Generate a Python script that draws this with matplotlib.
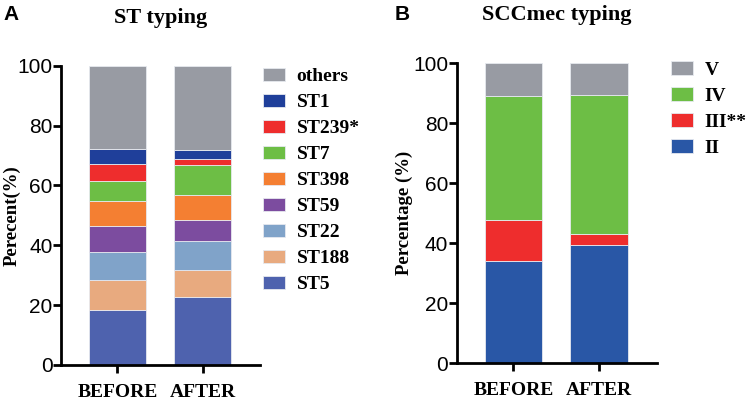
import matplotlib
matplotlib.use("Agg")
import matplotlib.pyplot as plt
from matplotlib.patches import Patch

groups = ['BEFORE', 'AFTER']

# panel A: ST typing, bottom to top
st_names = ['ST5', 'ST188', 'ST22', 'ST59', 'ST398', 'ST7', 'ST239*', 'ST1', 'others']
st_before = [18.4, 9.9, 9.5, 8.6, 8.4, 6.7, 5.7, 4.9, 27.9]
st_after = [22.7, 9.0, 9.7, 6.9, 8.5, 10.0, 1.9, 3.0, 28.3]
st_colors = ['#4e62ae', '#e8aa7f', '#80a3c9', '#7c4c9f', '#f47f32',
             '#6dbe45', '#ee2d2d', '#1f3f9a', '#989ba3']

# panel B: SCCmec typing, bottom to top
scc_names = ['II', 'III**', 'IV', 'V']
scc_before = [34.1, 13.8, 41.2, 10.9]
scc_after = [39.4, 3.8, 46.2, 10.6]
scc_colors = ['#2957a6', '#ee2d2d', '#6dbe45', '#989ba3']

serif = 'Liberation Serif'
sans = 'Liberation Sans'
W, H = 749, 401

fig = plt.figure(figsize=(W / 100, H / 100), dpi=100)


def stacked(ax, names, before, after, colors, ylabel, labelpad):
    bottoms = [0, 0]
    handles = []
    for name, b, a, c in zip(names, before, after, colors):
        ax.bar([0, 1], [b, a], bottom=bottoms, width=0.67, color=c,
               edgecolor='#e6e9ef', linewidth=0.6)
        bottoms = [bottoms[0] + b, bottoms[1] + a]
        handles.append(Patch(facecolor=c, edgecolor='#e6e9ef', linewidth=0.6, label=name))
    ax.set_xlim(-0.66, 1.67)
    ax.set_ylim(0, 100)
    ax.set_yticks(range(0, 101, 20))
    ax.set_xticks([0, 1])
    ax.set_xticklabels(groups, fontfamily=serif, fontweight='bold', fontsize=14)
    for lab in ax.get_yticklabels():
        lab.set_fontfamily(sans)
        lab.set_fontsize(15)
    ax.spines['top'].set_visible(False)
    ax.spines['right'].set_visible(False)
    for s in ('left', 'bottom'):
        ax.spines[s].set_linewidth(2.0)
    ax.tick_params(axis='both', width=2.0, length=5.5, pad=0.5)
    ax.tick_params(axis='x', length=5.5, pad=8)
    ax.set_ylabel(ylabel, fontfamily=serif, fontweight='bold', fontsize=13.5, labelpad=labelpad)
    return handles[::-1]


def legend(ax, handles, x, y):
    ax.legend(handles=handles, loc='upper left', bbox_to_anchor=(x, y), frameon=False,
              prop={'family': serif, 'weight': 'bold', 'size': 14},
              handlelength=1.13, handleheight=0.7, labelspacing=0.43, handletextpad=0.6,
              borderaxespad=0.0, borderpad=0.0)


axA = fig.add_axes([61 / W, (H - 365) / H, 199 / W, 299.3 / H])
hA = stacked(axA, st_names, st_before, st_after, st_colors, 'Perecent(%)', -2)
axA.set_title('ST typing', fontfamily=serif, fontweight='bold', fontsize=16, pad=31)
legend(axA, hA, 1.015, 0.993)

axB = fig.add_axes([456.7 / W, (H - 363.3) / H, 200 / W, 300 / H])
hB = stacked(axB, scc_names, scc_before, scc_after, scc_colors, 'Percentage (%)', 0)
axB.set_title('SCCmec typing', fontfamily=serif, fontweight='bold', fontsize=16, pad=31)
legend(axB, hB, 1.0715, 1.006)

fig.text(3 / W, 1 - 15 / H, 'A', fontfamily=sans, fontweight='bold', fontsize=15, va='center')
fig.text(395 / W, 1 - 15 / H, 'B', fontfamily=sans, fontweight='bold', fontsize=15, va='center')

fig.savefig('out.png', dpi=100)
